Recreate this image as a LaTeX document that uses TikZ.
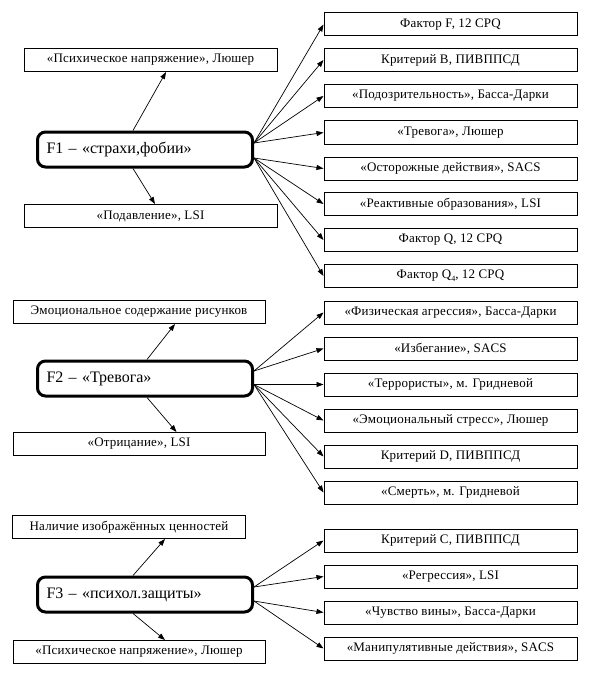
\documentclass[tikz,border=0pt]{standalone}
\usepackage{fontspec}
\setmainfont{Liberation Serif}
\usetikzlibrary{arrows.meta}
\begin{document}
\begin{tikzpicture}[x=1pt,y=-1pt,
  box/.style={draw, line width=1pt, minimum width=253pt, minimum height=23pt, inner sep=0pt,
    font=\fontsize{13}{15}\selectfont\addfontfeature{LetterSpace=1.5}},
  fbox/.style={draw, line width=3pt, rounded corners=8pt, text width=197pt, inner xsep=9pt,
    inner ysep=0pt, minimum height=35pt, align=left, font=\fontsize{16}{18}\selectfont},
  arr/.style={line width=0.7pt, -{Triangle[length=7pt,width=5pt]}}]
\useasboundingbox (0,0) rectangle (613,674);

% central factor nodes
\node[fbox] (f1) at (145,149.5) {F1 – «страхи,фобии»};
\node[fbox] (f2) at (145,378.5) {F2 – «Тревога»};
\node[fbox] (f3) at (145,594.5) {F3 – «психол.защиты»};

% right column, group 1
\node[box] (r1) at (450.5,24.5) {Фактор F, 12 CPQ};
\node[box] (r2) at (450.5,60) {Критерий В, ПИВППСД};
\node[box] (r3) at (450.5,96) {«Подозрительность», Басса-Дарки};
\node[box] (r4) at (450.5,132.5) {«Тревога», Люшер};
\node[box] (r5) at (450.5,168.5) {«Осторожные действия», SACS};
\node[box] (r6) at (450.5,204) {«Реактивные образования», LSI};
\node[box] (r7) at (450.5,240) {Фактор Q, 12 CPQ};
\node[box] (r8) at (450.5,276) {Фактор Q\raisebox{-0.35ex}{\fontsize{8}{9}\selectfont 4}, 12 CPQ};

% right column, group 2
\node[box] (s1) at (450.5,312.5) {«Физическая агрессия», Басса-Дарки};
\node[box] (s2) at (450.5,348.5) {«Избегание», SACS};
\node[box] (s3) at (450.5,384.5) {«Террористы», м. Гридневой};
\node[box] (s4) at (450.5,420.5) {«Эмоциональный стресс», Люшер};
\node[box] (s5) at (450.5,456.5) {Критерий D, ПИВППСД};
\node[box] (s6) at (450.5,492.5) {«Смерть», м. Гридневой};

% right column, group 3
\node[box] (t1) at (450.5,540.5) {Критерий С, ПИВППСД};
\node[box] (t2) at (450.5,576.5) {«Регрессия», LSI};
\node[box] (t3) at (450.5,612.5) {«Чувство вины», Басса-Дарки};
\node[box] (t4) at (450.5,648.5) {«Манипулятивные действия», SACS};

% left boxes
\node[box] (p1) at (150.5,60) {«Психическое напряжение», Люшер};
\node[box] (p2) at (150.5,216) {«Подавление», LSI};
\node[box, minimum width=252pt] (q1) at (139,312) {Эмоциональное содержание рисунков};
\node[box, minimum width=252pt] (q2) at (139,444) {«Отрицание», LSI};
\node[box, minimum width=233pt] (u1) at (129,527) {Наличие изображённых ценностей};
\node[box, minimum width=252pt] (u2) at (139,652) {«Психическое напряжение», Люшер};

% source points on the right side of the factor boxes
\coordinate (f1u) at ([yshift=6.5pt]f1.east);
\coordinate (f1l) at ([yshift=-8.5pt]f1.east);
\coordinate (f2u) at ([yshift=7.5pt]f2.east);
\coordinate (f2l) at ([yshift=-6pt]f2.east);
\coordinate (f3u) at ([yshift=7.5pt]f3.east);
\coordinate (f3l) at ([yshift=-6.5pt]f3.east);

% connectors F1
\foreach \n in {r1,r2,r3,r4} \draw[arr] (f1u) -- (\n.west);
\foreach \n in {r5,r6,r7,r8} \draw[arr] (f1l) -- (\n.west);
\draw[arr] ([xshift=-12pt]f1.north) -- ([xshift=15.5pt]p1.south);
\draw[arr] ([xshift=-12pt]f1.south) -- ([xshift=4.5pt]p2.north);

% connectors F2
\foreach \n in {s1,s2} \draw[arr] (f2u) -- (\n.west);
\foreach \n in {s3,s4,s5,s6} \draw[arr] (f2l) -- (\n.west);
\draw[arr] ([xshift=2pt]f2.north) -- ([xshift=36pt]q1.south);
\draw[arr] ([xshift=2pt]f2.south) -- ([xshift=37.5pt]q2.north);

% connectors F3
\foreach \n in {t1,t2} \draw[arr] (f3u) -- (\n.west);
\foreach \n in {t3,t4} \draw[arr] (f3l) -- (\n.west);
\draw[arr] ([xshift=-12pt]f3.north) -- ([xshift=36pt]u1.south);
\draw[arr] ([xshift=-12pt]f3.south) -- ([xshift=26pt]u2.north);
\end{tikzpicture}
\end{document}
